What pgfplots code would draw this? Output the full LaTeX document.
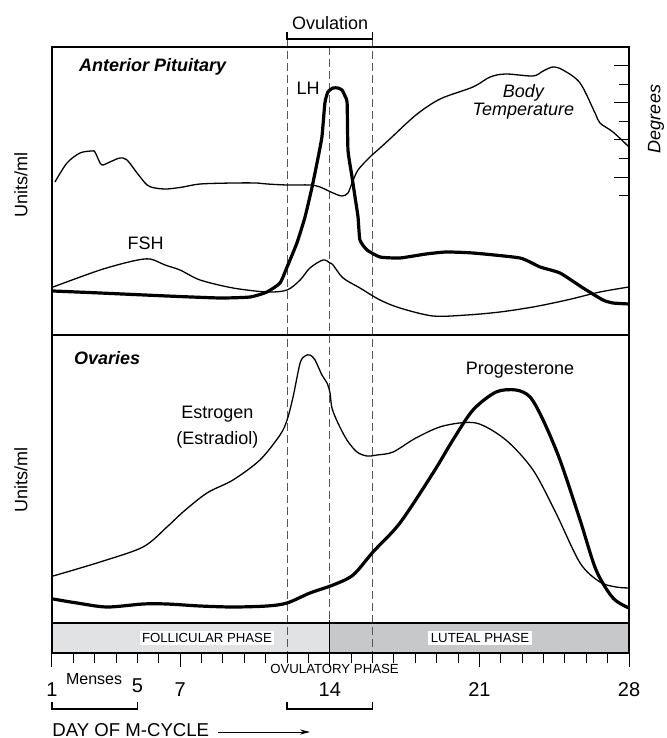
\documentclass[border=0pt]{standalone}
\usepackage{fontspec}
\setmainfont{Liberation Sans}
\usepackage{pgfplots}
\usepackage{pgfplotstable}
\pgfplotsset{compat=1.18}
\usetikzlibrary{arrows.meta}

\definecolor{follicular}{HTML}{E1E2E4}
\definecolor{luteal}{HTML}{C7C8CA}
\definecolor{guide}{HTML}{555555}

% day of cycle vs. relative level (arbitrary units, panel-stacked)
\pgfplotstableread{
day y
1.14 471
1.70 490
2.31 500
2.87 502
3.01 501
3.25 490
3.39 488
3.71 491
4.18 495
4.51 493
4.98 480
5.45 468
5.82 465
6.38 464
7.13 466
7.93 469
9.47 470
10.59 470
11.06 469
12.00 468
13.07 468
13.54 466
14.15 460
14.57 457
14.85 460
15.04 470
15.32 483
15.88 496
16.35 505
16.86 515
18.03 538
19.16 554
20.70 566
21.50 576
22.24 579
23.51 577
23.98 582
24.44 586
24.91 583
25.71 570
26.41 540
26.64 530
27.25 521
28.00 506
}\bodytemp

\pgfplotstableread{
day y
1.05 366
3.25 383
4.79 392
5.59 394
6.29 388
6.99 383
7.93 373
9.47 365
11.06 361
12.00 363
12.61 373
13.07 385
13.68 393
14.01 390
14.15 388
14.62 375
15.41 365
16.35 353
17.28 345
18.83 337
20.42 338
21.96 341
23.51 346
25.10 353
26.64 361
28.00 366
}\fsh

\pgfplotstableread{
day y
1.05 362
3.25 360
6.38 357
8.86 355
10.27 356
11.06 361
11.67 370
12.00 386
12.46 410
12.84 436
13.17 466
13.40 490
13.63 516
13.77 550
13.91 561
14.15 565
14.38 565
14.57 563
14.71 557
14.81 550
14.85 503
15.04 476
15.18 456
15.32 436
15.41 413
15.74 403
16.35 396
17.28 395
18.50 399
19.44 401
20.70 400
22.90 395
23.84 386
24.77 380
25.85 365
26.78 353
27.25 350
28.00 349
}\lh

\pgfplotstableread{
day y
1.05 77
3.25 91
5.26 106
6.38 126
7.13 141
8.25 160
9.47 173
10.73 193
11.67 218
12.00 233
12.28 256
12.61 290
12.84 297
13.07 298
13.31 293
13.63 278
13.87 270
14.01 260
14.10 245
14.38 230
14.80 213
15.27 201
15.74 197
16.21 198
16.96 201
18.03 215
19.30 227
20.84 230
22.24 213
23.51 183
24.58 140
25.71 90
26.64 71
27.39 66
28.00 65
}\estrogen

\pgfplotstableread{
day y
1.05 54
2.17 50
3.57 46
5.26 49
6.38 49
7.93 47
9.47 46
11.06 47
12.00 50
13.07 60
14.15 68
15.09 78
16.02 101
17.28 130
18.83 180
19.76 213
20.70 243
21.78 261
22.71 263
23.37 256
23.98 233
24.77 193
25.71 133
26.46 83
27.25 55
28.00 45
}\progesterone

\begin{document}
\begin{tikzpicture}
\path[use as bounding box] (-26pt,-42.5pt) rectangle (307pt,326.5pt);
\begin{axis}[
    at={(0,0)}, anchor=south west,
    width=288.5pt, height=303pt, scale only axis,
    xmin=1, xmax=28, ymin=0, ymax=606,
    axis line style={draw=none},
    ytick=\empty,
    xtick={1,7,14,21,28},
    extra x ticks={5},
    extra x tick style={major tick length=5pt},
    minor xtick={2,3,4,6,8,9,10,11,12,13,15,16,17,18,19,20,22,23,24,25,26,27},
    xtick pos=bottom,
    tick align=outside,
    major tick length=7pt, minor tick length=5pt,
    tick style={black, line width=0.5pt},
    xticklabel style={font=\fontsize{10}{12}\selectfont, anchor=center, yshift=-11.5pt},
    /pgf/number format/assume math mode=true,
    clip=false,
    thin curve/.style={black, line width=0.65pt, smooth, tension=0.5, no markers},
    thick curve/.style={black, line width=1.6pt, smooth, tension=0.5, no markers},
]
% phase bar
\fill[follicular] (axis cs:1,0) rectangle (axis cs:14,30);
\fill[luteal] (axis cs:14,0) rectangle (axis cs:28,30);

% ovulation guides
\draw[guide, line width=0.5pt, dash pattern=on 4pt off 2pt] (axis cs:12,614) -- (axis cs:12,0);
\draw[guide, line width=0.5pt, dash pattern=on 4pt off 2pt] (axis cs:14,606) -- (axis cs:14,30);
\draw[guide, line width=0.5pt, dash pattern=on 4pt off 2pt] (axis cs:16,614) -- (axis cs:16,0);
\draw[line width=0.6pt] (axis cs:14,33) -- (axis cs:14,0);

\addplot[thin curve] table {\bodytemp};
\addplot[thin curve] table {\fsh};
\addplot[thick curve, tension=0.3] table {\lh};
\addplot[thin curve] table {\estrogen};
\addplot[thick curve] table {\progesterone};

% panel frames
\draw[line width=0.6pt] (axis cs:1,318) rectangle (axis cs:28,606);
\draw[line width=0.6pt] (axis cs:1,30) -- (axis cs:1,318);
\draw[line width=1.4pt] (axis cs:28,318) -- (axis cs:28,30);
\draw[line width=0.6pt] (axis cs:1,0) rectangle (axis cs:28,30);

% degrees scale
\pgfplotsinvokeforeach{606,568.8,531.6,494.4,457.2}{
  \draw[line width=0.5pt] (axis cs:28,#1) -- ++(5.5pt,0);
}
\pgfplotsinvokeforeach{587.4,550.2,513,475.8}{
  \draw[line width=0.5pt] (axis cs:28,#1) -- ++(3pt,0);
}

% brackets
\draw[line width=0.6pt] (axis cs:12,621) -- (axis cs:12,614) -- (axis cs:16,614) -- (axis cs:16,621);
\draw[line width=0.6pt] (axis cs:12,-49) -- (axis cs:12,-56) -- (axis cs:16,-56) -- (axis cs:16,-49);
\draw[line width=0.6pt] (axis cs:1,-49) -- (axis cs:1,-56) -- (axis cs:5,-56) -- (axis cs:5,-49);

% labels
\node[font=\bfseries\itshape\fontsize{9}{10}\selectfont, anchor=west] at (axis cs:1.94,586) {Anterior Pituitary};
\node[font=\bfseries\itshape\fontsize{9}{10}\selectfont, anchor=west] at (axis cs:1.70,295) {Ovaries};
\node[font=\fontsize{9}{10}\selectfont] at (axis cs:5.38,410) {FSH};
\node[font=\fontsize{9}{10}\selectfont] at (axis cs:12.98,565) {LH};
\node[font=\itshape\fontsize{9}{9}\selectfont, align=center] at (axis cs:23.06,551) {Body\\Temperature};
\node[font=\fontsize{9}{12.8}\selectfont, align=center] at (axis cs:8.74,226) {Estrogen\\(Estradiol)};
\node[font=\fontsize{9}{10}\selectfont] at (axis cs:22.90,283) {Progesterone};
\node[font=\fontsize{9}{10}\selectfont, rotate=90] at (axis cs:-0.45,468) {Units/ml};
\node[font=\fontsize{9}{10}\selectfont, rotate=90] at (axis cs:-0.45,173) {Units/ml};
\node[font=\itshape\fontsize{9}{10}\selectfont, rotate=90] at (axis cs:29.26,534) {Degrees};
\node[font=\fontsize{9}{10}\selectfont] at (axis cs:14.01,630) {Ovulation};
\node[font=\fontsize{6.6}{7}\selectfont, fill=white, inner sep=1.2pt] at (axis cs:8.25,15) {FOLLICULAR PHASE};
\node[font=\fontsize{6.6}{7}\selectfont, fill=white, inner sep=1.2pt] at (axis cs:21.03,15) {LUTEAL PHASE};
\node[font=\fontsize{6.6}{7}\selectfont] at (axis cs:14.22,-16) {OVULATORY PHASE};
\node[font=\fontsize{8}{9}\selectfont] at (axis cs:2.97,-26) {Menses};
\node[font=\fontsize{9.3}{10}\selectfont, anchor=west, inner sep=0pt] at (axis cs:1,-77) {DAY OF M-CYCLE};
\draw[line width=0.5pt, -{Stealth[length=5pt, width=2.6pt]}] (axis cs:8.77,-79) -- (axis cs:13.07,-79);
\end{axis}
\end{tikzpicture}
\end{document}
